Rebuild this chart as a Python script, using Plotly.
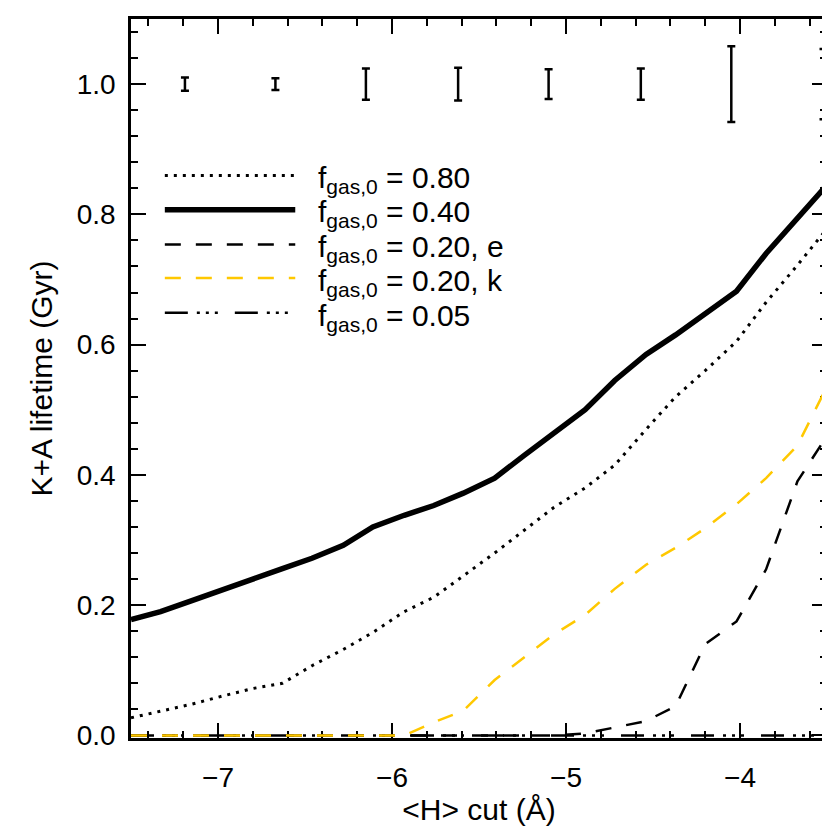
import plotly.graph_objects as go

# <H> cut grid (Angstrom) shared by all model curves
h_cut = [-7.50, -7.33, -7.15, -6.98, -6.80, -6.63, -6.46, -6.28, -6.11, -5.93, -5.76, -5.59,
         -5.41, -5.24, -5.07, -4.89, -4.72, -4.54, -4.37, -4.20, -4.02, -3.85, -3.67, -3.50]

# K+A lifetime (Gyr) for each initial gas fraction
life_080 = [0.027, 0.037, 0.048, 0.060, 0.072, 0.080, 0.107, 0.132, 0.158, 0.190, 0.212, 0.245,
            0.280, 0.315, 0.350, 0.380, 0.415, 0.470, 0.520, 0.560, 0.605, 0.665, 0.722, 0.778]
life_040 = [0.178, 0.190, 0.207, 0.224, 0.240, 0.256, 0.272, 0.292, 0.320, 0.338, 0.353, 0.372,
            0.395, 0.430, 0.463, 0.500, 0.545, 0.585, 0.615, 0.648, 0.682, 0.740, 0.795, 0.845]
life_020e = [0.0, 0.0, 0.0, 0.0, 0.0, 0.0, 0.0, 0.0, 0.0, 0.0, 0.0, 0.0,
             0.0, 0.0, 0.0, 0.003, 0.012, 0.022, 0.045, 0.140, 0.175, 0.255, 0.390, 0.460]
life_020k = [0.0, 0.0, 0.0, 0.0, 0.0, 0.0, 0.0, 0.0, 0.0, 0.0, 0.020, 0.038,
             0.085, 0.120, 0.155, 0.185, 0.225, 0.262, 0.288, 0.318, 0.355, 0.395, 0.445, 0.536]
life_005 = [0.0] * 24

# typical uncertainty bars drawn along the top
err_x = [-7.19, -6.67, -6.15, -5.62, -5.10, -4.57, -4.05, -3.52]
err_y = [1.0, 1.0, 1.0, 1.0, 1.0, 1.0, 1.0, 1.0]
err_size = [0.010, 0.009, 0.024, 0.025, 0.023, 0.024, 0.058, 0.054]

legend_labels = ["0.80", "0.40", "0.20, e", "0.20, k", "0.05"]

FONT = "Liberation Sans, Arial, sans-serif"
YELLOW = "#FFC800"
DOT = "3px,6px"
DASH = "16px,15px"
DASH3DOT = "23px,9px,3px,6px,3px,6px,3px,17px"

styles = [
    dict(color="black", width=3, dash=DOT),
    dict(color="black", width=5.5, dash="solid"),
    dict(color="black", width=2.5, dash=DASH),
    dict(color=YELLOW, width=2.5, dash=DASH),
    dict(color="black", width=2.5, dash=DASH3DOT),
]
series = [life_080, life_040, life_020e, life_020k, life_005]

fig = go.Figure()
# yellow curve last so it sits on top of the zero-valued black lines
for idx in [0, 1, 2, 4, 3]:
    fig.add_trace(
        go.Scatter(x=h_cut, y=series[idx], mode="lines", line=styles[idx],
                   showlegend=False, hoverinfo="skip")
    )

fig.add_trace(
    go.Scatter(
        x=err_x, y=err_y, mode="markers",
        marker=dict(size=1, color="black", opacity=0),
        error_y=dict(type="data", array=err_size, visible=True, color="black",
                     thickness=2.5, width=4),
        showlegend=False, hoverinfo="skip",
    )
)

# hand-drawn legend in paper coordinates
row_y = [0.7825, 0.7348, 0.6863, 0.6399, 0.5914]
for label, st, yy in zip(legend_labels, styles, row_y):
    fig.add_shape(type="line", xref="paper", yref="paper", x0=0.0486, x1=0.236, y0=yy, y1=yy,
                  line=dict(color=st["color"], width=st["width"], dash=st["dash"]))
    fig.add_annotation(xref="paper", yref="paper", x=0.266, y=yy - 0.006, xanchor="left", yanchor="middle",
                       text=f"f<sub>gas,0</sub> = {label}", showarrow=False,
                       font=dict(family=FONT, size=30, color="black"))

axis_common = dict(
    showgrid=False, zeroline=False, showline=True, linecolor="black", linewidth=2.5,
    mirror="ticks", ticks="inside", tickcolor="black", tickwidth=2, ticklen=15,
    tickfont=dict(family=FONT, size=28, color="black"), layer="below traces",
)
fig.update_xaxes(
    range=[-7.5, -3.5], dtick=1, tick0=-7,
    minor=dict(ticks="inside", dtick=0.2, ticklen=7, tickwidth=2, tickcolor="black"),
    title=dict(text="&lt;H&gt; cut (Å)", font=dict(family=FONT, size=30, color="black"), standoff=2),
    ticklabelstandoff=13,
    **axis_common,
)
fig.update_yaxes(
    range=[-0.004, 1.1], dtick=0.2, tick0=0, tickformat=".1f",
    minor=dict(ticks="inside", dtick=0.04, ticklen=7, tickwidth=2, tickcolor="black"),
    title=dict(text="K+A lifetime (Gyr)", font=dict(family=FONT, size=30, color="black"), standoff=16),
    ticklabelstandoff=7,
    **axis_common,
)
fig.update_layout(
    width=830, height=830,
    margin=dict(l=123, r=8, t=8, b=100),
    paper_bgcolor="white", plot_bgcolor="white",
    showlegend=False,
)
fig.write_html("out.html")
